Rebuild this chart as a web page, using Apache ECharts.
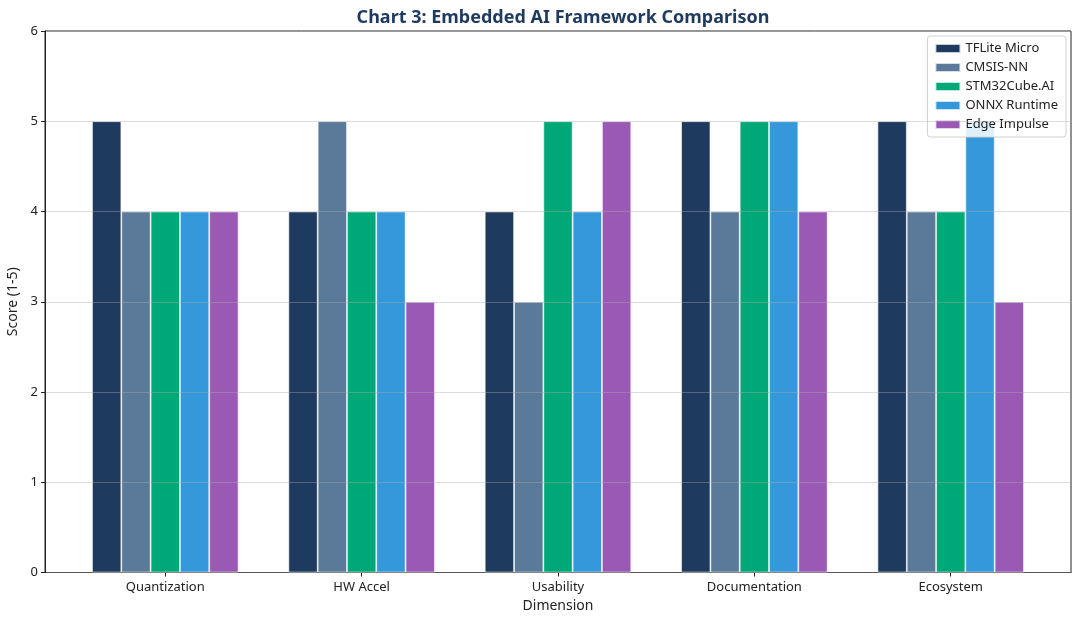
<!DOCTYPE html>
<html>
<head>
<meta charset="utf-8">
<script src="https://cdn.jsdelivr.net/npm/echarts@6/dist/echarts.min.js"></script>
<style>html,body{margin:0;padding:0;background:#fff}#c{width:1080px;height:624px}</style>
</head>
<body>
<div id="c"></div>
<script>
const categories = ['Quantization', 'HW Accel', 'Usability', 'Documentation', 'Ecosystem'];
const seriesNames = ['TFLite Micro', 'CMSIS-NN', 'STM32Cube.AI', 'ONNX Runtime', 'Edge Impulse'];
const tfliteMicro = [5, 4, 4, 5, 5];
const cmsisNN = [4, 5, 3, 4, 4];
const stm32CubeAI = [4, 4, 5, 5, 4];
const onnxRuntime = [4, 4, 4, 5, 5];
const edgeImpulse = [4, 3, 5, 4, 3];
const yTicks = [0, 1, 2, 3, 4, 5, 6];

const colors = ['#1f3a5f', '#5b7a9a', '#00a878', '#3498db', '#9b59b6'];
const values = [tfliteMicro, cmsisNN, stm32CubeAI, onnxRuntime, edgeImpulse];
const font = 'Noto Sans';
const idx = categories.map((_, i) => i);

const chart = echarts.init(document.getElementById('c'));
chart.setOption({
  animation: false,
  textStyle: { fontFamily: font },
  title: {
    text: 'Chart 3: Embedded AI Framework Comparison',
    left: 558, top: 4, textAlign: 'center',
    textStyle: { fontFamily: font, fontSize: 18, fontWeight: 'bold', color: '#1f3a5f' }
  },
  grid: { left: 45, right: 9, top: 31, bottom: 51.5, outerBoundsMode: 'none', containLabel: false, show: true, borderColor: '#222', borderWidth: 1, backgroundColor: 'transparent' },
  legend: {
    data: seriesNames,
    orient: 'vertical',
    right: 14, top: 36,
    icon: 'rect', itemWidth: 25, itemHeight: 9, itemGap: 6,
    padding: [6, 8, 6, 7],
    borderColor: '#d0d0d0', borderWidth: 1, borderRadius: 3,
    backgroundColor: 'rgba(255,255,255,0.85)',
    textStyle: { fontFamily: font, fontSize: 13, color: '#222' }
  },
  xAxis: {
    type: 'value', min: -0.6125, max: 4.6125,
    name: 'Dimension', nameLocation: 'middle', nameGap: 27,
    nameTextStyle: { fontFamily: font, fontSize: 14, color: '#222' },
    axisLine: { show: true, onZero: false, lineStyle: { color: '#222' } },
    axisTick: { show: true, customValues: idx, length: 4, lineStyle: { color: '#222' } },
    axisLabel: { customValues: idx, formatter: v => categories[Math.round(v)], fontSize: 13, color: '#222', margin: 8 },
    splitLine: { show: false }
  },
  yAxis: {
    type: 'value', min: 0, max: 6, interval: 1, z: 5,
    name: 'Score (1-5)', nameLocation: 'middle', nameGap: 23,
    nameTextStyle: { fontFamily: font, fontSize: 14, color: '#222' },
    axisLine: { show: true, onZero: false, lineStyle: { color: '#222' } },
    axisTick: { show: true, length: 4, lineStyle: { color: '#222' } },
    axisLabel: { fontSize: 13, color: '#222', margin: 7, formatter: v => yTicks.includes(v) ? String(v) : '' },
    splitLine: { show: true, lineStyle: { color: 'rgba(170,170,170,0.4)', width: 1 } }
  },
  series: seriesNames.map((n, j) => ({
    name: n, type: 'bar',
    data: values[j].map((v, i) => [i, v]),
    barWidth: 29.3, barGap: '0%',
    itemStyle: { color: colors[j], borderColor: 'rgba(255,255,255,0.75)', borderWidth: 0.8 }
  }))
});
</script>
</body>
</html>
